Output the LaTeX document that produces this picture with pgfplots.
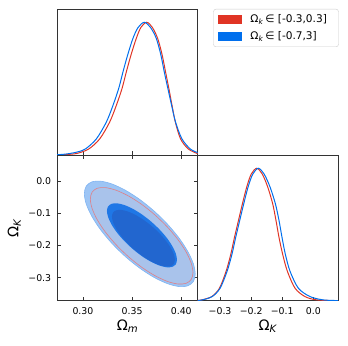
\documentclass[border=0pt]{standalone}
\usepackage{fontspec}
\setmainfont{DejaVu Sans}
\usepackage{pgfplots}
\pgfplotsset{compat=1.18}
\definecolor{gdred}{HTML}{E03424}
\definecolor{gdblue}{HTML}{006FED}
\definecolor{bluepale}{HTML}{9DC5F5}
\definecolor{blueedge}{HTML}{80B4F2}
\definecolor{mixpale}{HTML}{A9C3EB}
\definecolor{redline}{HTML}{E07F86}
\definecolor{bluesolid}{HTML}{1F77E6}
\definecolor{mixsolid}{HTML}{2266CF}
\definecolor{frame}{HTML}{333333}
\newcommand{\legfont}{\fontsize{10.6}{12.6}\selectfont}
\newcommand{\labfont}{\fontsize{14.5}{17}\selectfont}
\begin{document}
\begin{tikzpicture}
\useasboundingbox (0bp,0bp) rectangle (348bp,346bp);
\pgfplotsset{
  every axis/.append style={
    scale only axis,
    axis line style={frame, line width=0.8bp},
    tick align=inside,
    major tick length=4bp,
    every tick/.style={frame, line width=0.8bp},
    tick label style={font=\fontsize{9.4}{11}\selectfont},
    xticklabel style={yshift=-3bp},
    yticklabel style={xshift=-2.5bp},
    every axis x label/.style={at={(axis description cs:0.5,-0.2045)}, anchor=base, font=\labfont},
    every axis y label/.style={at={(axis description cs:-0.305,0.5)}, rotate=90, anchor=center, font=\labfont},
  },
}
% ---------- top-left: 1D Omega_m ----------
\begin{axis}[
  at={(57.2bp,191bp)}, anchor=south west,
  width=140.5bp, height=146bp,
  xmin=0.2738, xmax=0.4167, ymin=0, ymax=1.1,
  xtick={0.30,0.35,0.40}, xticklabels={},
  ytick=\empty, xtick pos=left,
  legend image code/.code={%
    \path[fill=none, draw=none] (0bp,-8.35bp) rectangle (37bp,8.35bp);
    \fill[#1, sharp corners] (4.4bp,-4.6bp) rectangle (28.4bp,4.6bp);},
  legend style={at={(1.111,1.0)}, anchor=north west, draw=black!20,
    rounded corners=2.5bp, fill=white, font=\legfont,
    inner xsep=0bp, inner ysep=2.1bp, row sep=0bp,
    nodes={inner sep=0bp}},
  legend cell align=left,
]
\addlegendimage{fill=gdred, draw=none}
\addlegendentry{\makebox[88bp][l]{\legfont Ω\textsubscript{\textit{k}}\,∈ [-0.3,0.3]}}
\addlegendimage{fill=gdblue, draw=none}
\addlegendentry{\makebox[88bp][l]{\legfont Ω\textsubscript{\textit{k}}\,∈ [-0.7,3]}}
\addplot[gdred, line width=1bp, smooth, forget plot] coordinates {
(0.2738,0.001) (0.2837,0.004) (0.2939,0.012) (0.3058,0.045) (0.3170,0.121)
(0.3271,0.247) (0.3339,0.373) (0.3397,0.500) (0.3441,0.626) (0.3488,0.752)
(0.3542,0.878) (0.3590,0.962) (0.3649,1.000) (0.3705,0.962) (0.3760,0.878)
(0.3806,0.752) (0.3840,0.626) (0.3874,0.500) (0.3906,0.373) (0.3940,0.247)
(0.3993,0.121) (0.4072,0.045) (0.4167,0.010)
};
\addplot[gdblue, line width=1bp, smooth, forget plot] coordinates {
(0.2738,0.002) (0.2837,0.008) (0.2939,0.022) (0.3024,0.045) (0.3136,0.121)
(0.3237,0.247) (0.3305,0.373) (0.3363,0.500) (0.3407,0.626) (0.3454,0.752)
(0.3508,0.878) (0.3560,0.960) (0.3624,1.000) (0.3688,0.960) (0.3746,0.878)
(0.3793,0.752) (0.3827,0.626) (0.3864,0.500) (0.3902,0.373) (0.3942,0.247)
(0.4007,0.121) (0.4092,0.045) (0.4167,0.018)
};
\end{axis}
% ---------- bottom-left: 2D ----------
\begin{axis}[
  at={(57.2bp,45.3bp)}, anchor=south west,
  width=140.5bp, height=145.7bp,
  xmin=0.2738, xmax=0.4167, ymin=-0.3714, ymax=0.0807,
  xtick={0.30,0.35,0.40}, xticklabels={0.30,0.35,0.40},
  ytick={-0.3,-0.2,-0.1,0}, yticklabels={−0.3,−0.2,−0.1,0.0},
  xtick pos=both, ytick pos=both, xticklabel pos=left, yticklabel pos=left,
  xlabel={Ω\textsubscript{\textit{m}}},
  ylabel={Ω\textsubscript{\textit{K}}},
]
% blue 95% region
\addplot[fill=bluepale, draw=blueedge, line width=0.6bp, smooth cycle] coordinates {
(0.4142,-0.2886) (0.4123,-0.2568) (0.4066,-0.2186) (0.3977,-0.1768) (0.3860,-0.1340)
(0.3724,-0.0933) (0.3578,-0.0574) (0.3432,-0.0288) (0.3296,-0.0094) (0.3179,-0.0005)
(0.3090,-0.0028) (0.3033,-0.0160) (0.3014,-0.0394) (0.3033,-0.0712) (0.3090,-0.1094)
(0.3179,-0.1512) (0.3296,-0.1940) (0.3432,-0.2347) (0.3578,-0.2706) (0.3724,-0.2992)
(0.3860,-0.3186) (0.3977,-0.3275) (0.4066,-0.3252) (0.4123,-0.3120)
};
% red 95% region (under blue, blended)
\addplot[fill=mixpale, draw=none, smooth cycle] coordinates {
(0.4119,-0.2840) (0.4101,-0.2549) (0.4049,-0.2200) (0.3966,-0.1817) (0.3858,-0.1426)
(0.3732,-0.1053) (0.3597,-0.0725) (0.3462,-0.0463) (0.3336,-0.0286) (0.3228,-0.0205)
(0.3145,-0.0225) (0.3093,-0.0347) (0.3075,-0.0560) (0.3093,-0.0851) (0.3145,-0.1200)
(0.3228,-0.1583) (0.3336,-0.1974) (0.3462,-0.2347) (0.3597,-0.2675) (0.3732,-0.2937)
(0.3858,-0.3114) (0.3966,-0.3196) (0.4049,-0.3175) (0.4101,-0.3054)
};
% blue 68% region
\addplot[fill=bluesolid, draw=none, smooth cycle] coordinates {
(0.3956,-0.2441) (0.3944,-0.2248) (0.3908,-0.2017) (0.3852,-0.1762) (0.3778,-0.1503)
(0.3692,-0.1256) (0.3600,-0.1038) (0.3508,-0.0865) (0.3422,-0.0747) (0.3348,-0.0693)
(0.3292,-0.0707) (0.3256,-0.0787) (0.3244,-0.0929) (0.3256,-0.1122) (0.3292,-0.1354)
(0.3348,-0.1608) (0.3422,-0.1867) (0.3508,-0.2114) (0.3600,-0.2332) (0.3692,-0.2505)
(0.3778,-0.2623) (0.3852,-0.2677) (0.3908,-0.2663) (0.3944,-0.2583)
};
% red 68% region under blue 68%
\addplot[fill=mixsolid, draw=none, smooth cycle] coordinates {
(0.3935,-0.2444) (0.3924,-0.2273) (0.3892,-0.2068) (0.3841,-0.1844) (0.3775,-0.1614)
(0.3698,-0.1396) (0.3615,-0.1203) (0.3532,-0.1049) (0.3455,-0.0945) (0.3389,-0.0898)
(0.3338,-0.0910) (0.3306,-0.0981) (0.3295,-0.1106) (0.3306,-0.1277) (0.3338,-0.1482)
(0.3389,-0.1706) (0.3455,-0.1936) (0.3532,-0.2154) (0.3615,-0.2347) (0.3698,-0.2501)
(0.3775,-0.2605) (0.3841,-0.2652) (0.3892,-0.2640) (0.3924,-0.2569)
};
% red 95% contour line
\addplot[redline, line width=0.6bp, smooth cycle] coordinates {
(0.4119,-0.2840) (0.4101,-0.2549) (0.4049,-0.2200) (0.3966,-0.1817) (0.3858,-0.1426)
(0.3732,-0.1053) (0.3597,-0.0725) (0.3462,-0.0463) (0.3336,-0.0286) (0.3228,-0.0205)
(0.3145,-0.0225) (0.3093,-0.0347) (0.3075,-0.0560) (0.3093,-0.0851) (0.3145,-0.1200)
(0.3228,-0.1583) (0.3336,-0.1974) (0.3462,-0.2347) (0.3597,-0.2675) (0.3732,-0.2937)
(0.3858,-0.3114) (0.3966,-0.3196) (0.4049,-0.3175) (0.4101,-0.3054)
};
\end{axis}
% ---------- bottom-right: 1D Omega_K ----------
\begin{axis}[
  at={(197.7bp,45.3bp)}, anchor=south west,
  width=140.5bp, height=145.7bp,
  xmin=-0.372, xmax=0.080, ymin=0, ymax=1.1,
  xtick={-0.3,-0.2,-0.1,0}, xticklabels={−0.3,−0.2,−0.1,0.0},
  ytick=\empty, xtick pos=left,
  xlabel={Ω\textsubscript{\textit{K}}},
]
\addplot[gdred, line width=1bp, smooth] coordinates {
(-0.372,0.002) (-0.359,0.006) (-0.3268,0.031) (-0.3021,0.094) (-0.2807,0.222)
(-0.2657,0.349) (-0.2539,0.476) (-0.2410,0.604) (-0.2282,0.731) (-0.2143,0.858)
(-0.2000,0.955) (-0.1820,1.000) (-0.1640,0.955) (-0.1467,0.858) (-0.1307,0.731)
(-0.1200,0.604) (-0.1103,0.476) (-0.0985,0.349) (-0.0835,0.222) (-0.0588,0.094)
(-0.0267,0.031) (0.011,0.006) (0.080,0.000)
};
\addplot[gdblue, line width=1bp, smooth] coordinates {
(-0.372,0.002) (-0.357,0.006) (-0.3255,0.031) (-0.3000,0.094) (-0.2775,0.222)
(-0.2620,0.349) (-0.2500,0.476) (-0.2370,0.604) (-0.2240,0.731) (-0.2100,0.858)
(-0.1950,0.955) (-0.1767,1.000) (-0.1580,0.955) (-0.1392,0.858) (-0.1220,0.731)
(-0.1103,0.604) (-0.1006,0.476) (-0.0899,0.349) (-0.0749,0.222) (-0.0481,0.094)
(-0.0106,0.031) (0.032,0.006) (0.080,0.001)
};
\end{axis}
\end{tikzpicture}
\end{document}
